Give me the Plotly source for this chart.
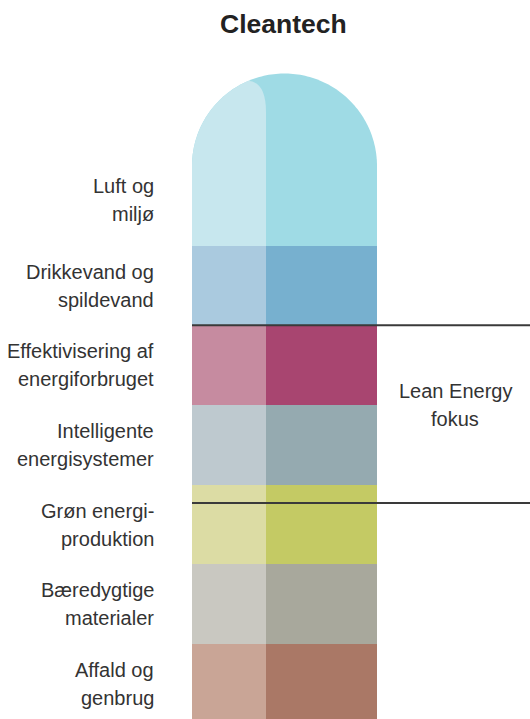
import numpy as np
import plotly.graph_objects as go

# ---------------- data ----------------
title_text = "Cleantech"
categories = [
    "Luft og miljø",
    "Drikkevand og spildevand",
    "Effektivisering af energiforbruget",
    "Intelligente energisystemer",
    "Grøn energiproduktion",
    "Bæredygtige materialer",
    "Affald og genbrug",
]
label_lines = [
    ["Luft og", "miljø"],
    ["Drikkevand og", "spildevand"],
    ["Effektivisering af", "energiforbruget"],
    ["Intelligente", "energisystemer"],
    ["Grøn energi-", "produktion"],
    ["Bæredygtige", "materialer"],
    ["Affald og", "genbrug"],
]
band_values = [1, 1, 1, 1, 1, 1, 1]
light_colors = ["#c7e7ee", "#aacadf", "#c68ba0", "#bec9cf", "#dcdca4", "#c9c8c1", "#c9a596"]
dark_colors = ["#9fdbe5", "#77b0cf", "#a84570", "#95aab0", "#c4ca64", "#a8a89c", "#aa7866"]
lean_range = [2.77, 5.0]
lean_label = ["Lean Energy", "fokus"]

# ---------------- layout geometry ----------------
PAGE_W, PAGE_H = 530, 719
OFF = 0  # body margin removed by post_script below
W, H = PAGE_W - OFF, PAGE_H - OFF
PX_PER_UNIT = 79.67
TOP_BAND_PX = 166
n = len(categories)
y_top = n + (TOP_BAND_PX - OFF) / PX_PER_UNIT
y_bot = n - (PAGE_H - TOP_BAND_PX) / PX_PER_UNIT

left_x0, split_x, right_x1 = 192, 266, 377
left_c, left_w = (left_x0 + split_x) / 2, split_x - left_x0
right_c, right_w = (split_x + right_x1) / 2, right_x1 - split_x

# bottom-to-top stacking
vals_bt = band_values[::-1]
bases_bt = np.concatenate([[0], np.cumsum(vals_bt)[:-1]])
light_bt = light_colors[::-1]
dark_bt = dark_colors[::-1]
cats_bt = categories[::-1]

fig = go.Figure()
fig.add_trace(go.Bar(x=[left_c] * n, y=vals_bt, base=bases_bt, width=left_w,
                     marker=dict(color=light_bt, line=dict(width=0)),
                     hovertext=cats_bt, showlegend=False))
fig.add_trace(go.Bar(x=[right_c] * n, y=vals_bt, base=bases_bt, width=right_w,
                     marker=dict(color=dark_bt, line=dict(width=0)),
                     hovertext=cats_bt, showlegend=False))

# dome on top of the column
total = float(np.sum(band_values))
cx = (left_x0 + right_x1) / 2
r_px = (right_x1 - left_x0) / 2
r_y = r_px / PX_PER_UNIT
t = np.linspace(0, np.pi, 120)
arc = " ".join(f"L {cx + r_px*np.cos(a):.2f},{total + r_y*np.sin(a):.4f}" for a in t)
dark_path = f"M {right_x1},{total} " + arc + " Z"
t2 = np.linspace(np.pi, np.radians(113), 60)
arc2 = " ".join(f"L {cx + r_px*np.cos(a):.2f},{total + r_y*np.sin(a):.4f}" for a in t2)
cy_ctrl = total + (TOP_BAND_PX - 82) / PX_PER_UNIT
cy_end = total + (TOP_BAND_PX - 112) / PX_PER_UNIT
light_path = (f"M {left_x0},{total} " + arc2 +
              f" Q {split_x},{cy_ctrl:.4f} {split_x},{cy_end:.4f} L {split_x},{total} Z")

shapes = [
    dict(type="path", path=dark_path, xref="x", yref="y",
         fillcolor=dark_colors[0], line=dict(width=0), layer="below"),
    dict(type="path", path=light_path, xref="x", yref="y",
         fillcolor=light_colors[0], line=dict(width=0), layer="below"),
]
for yv in lean_range:
    shapes.append(dict(type="line", xref="x", yref="y", x0=left_x0, x1=PAGE_W, y0=yv, y1=yv,
                       line=dict(color="#3a3a3a", width=2)))

font_txt = dict(family="Liberation Sans, Arial, sans-serif", size=20, color="#333333")
annotations = []
for i, lines in enumerate(label_lines):
    yc = total - i - 0.5
    extra = 6 if i == 0 else 0
    for j, ln in enumerate(lines):
        annotations.append(dict(x=156, y=yc, xref="x", yref="y", text=ln, showarrow=False,
                                xanchor="right", yanchor="middle",
                                yshift=14 - 28 * j + extra, font=font_txt))
lean_mid = sum(lean_range) / 2
for j, ln in enumerate(lean_label):
    annotations.append(dict(x=455, y=lean_mid, xref="x", yref="y", text=ln, showarrow=False,
                            xanchor="center", yanchor="middle",
                            yshift=23 - 28 * j, font=font_txt))
annotations.append(dict(x=283, y=1 - (24 - OFF) / H, xref="x", yref="paper",
                        text=f"<b>{title_text}</b>",
                        showarrow=False, xanchor="center", yanchor="middle",
                        font=dict(family="Liberation Sans, Arial, sans-serif", size=26.5,
                                  color="#222222")))

fig.update_layout(
    width=W, height=H, margin=dict(l=0, r=0, t=0, b=0),
    paper_bgcolor="white", plot_bgcolor="white",
    barmode="overlay", bargap=0,
    xaxis=dict(range=[OFF, PAGE_W], visible=False, fixedrange=True),
    yaxis=dict(range=[y_bot, y_top], visible=False, fixedrange=True),
    shapes=shapes, annotations=annotations, showlegend=False,
)
fig.write_html(
    "out.html",
    config={"displayModeBar": False},
    post_script="document.body.style.margin='0';document.body.style.overflow='hidden';",
)
